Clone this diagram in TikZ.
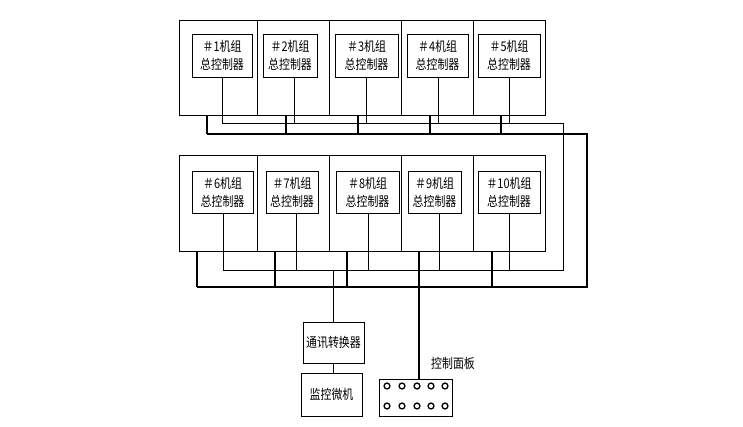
\documentclass[tikz,border=0pt]{standalone}
\usepackage{fontspec}
\usepackage{xcolor}
\newfontfamily\cjk[FakeStretch=0.82]{Noto Sans CJK SC}
\definecolor{wireink}{HTML}{000000}

\begin{document}
\begin{tikzpicture}[x=0.75pt, y=-0.75pt,
                    every node/.style={wireink, font=\cjk\fontsize{10}{13.5}\selectfont},
                    unitbox/.style={draw=wireink, line width=0.7pt, inner sep=0pt},
                    ctrlbox/.style={draw=wireink, line width=0.7pt, inner sep=0pt, align=center},
                    devbox/.style={draw=wireink, line width=0.7pt, inner sep=0pt},
                    thinwire/.style={wireink, line width=0.7pt},
                    thickwire/.style={wireink, line width=2pt, line join=miter}]

  \useasboundingbox (0,0) rectangle (743,426);

  %% 两条总线：细线为信号线，粗线为电源/通讯干线
  \coordinate (thinTL) at (222,123);
  \coordinate (thinTR) at (563,123);
  \coordinate (thinBR) at (563,270);
  \coordinate (thinBL) at (223,270);
  \coordinate (thickTL) at (207,134);
  \coordinate (thickTR) at (587,134);
  \coordinate (thickBR) at (587,287);
  \coordinate (thickBL) at (197,287);

  %% 上排 #1~#5 机组柜：编号/柜左/柜右/控制器左/控制器右/细线x/粗线x
  \foreach \i/\ul/\ur/\ca/\cb/\t/\k in {1/179/257/192/252/222/207,
                                         2/257/329/263/317/294/286,
                                         3/329/401/335/398/366/358,
                                         4/401/473/407/468/438/430,
                                         5/473/545/478/540/509/501}
  {
    \node[unitbox, minimum width={(\ur-\ul)*0.75pt}, minimum height=71.25pt]
      (u\i) at ({(\ul+\ur)/2},67.5) {};
    \node[ctrlbox, minimum width={(\cb-\ca)*0.75pt}, minimum height=32.25pt]
      (c\i) at ({(\ca+\cb)/2},55.5) {＃\i{}机组\\总控制器};
    \draw[thinwire] (c\i.south -| \t,0) -- (thinTL -| \t,0);
    \draw[thickwire] (u\i.south -| \k,0) -- (thickTL -| \k,0);
  }

  %% 下排 #6~#10 机组柜
  \foreach \i/\ul/\ur/\ca/\cb/\t/\k in {6/179/257/192/253/223/197,
                                         7/257/329/266/318/296/275,
                                         8/329/401/336/399/368/347,
                                         9/401/473/408/461/439/419,
                                         10/473/545/478/540/509/492}
  {
    \node[unitbox, minimum width={(\ur-\ul)*0.75pt}, minimum height=72pt]
      (u\i) at ({(\ul+\ur)/2},203) {};
    \node[ctrlbox, minimum width={(\cb-\ca)*0.75pt}, minimum height=31.5pt]
      (c\i) at ({(\ca+\cb)/2},192) {＃\i{}机组\\总控制器};
    \draw[thinwire] (c\i.south -| \t,0) -- (thinBL -| \t,0);
    \draw[thickwire] (u\i.south -| \k,0) -- (thickBL -| \k,0);
  }

  \draw[thinwire] (thinTL) -- (thinTR) -- (thinBR) -- (thinBL);
  \draw[thickwire] (thickTL) -- (thickTR) -- (thickBR) -- (thickBL);

  %% 监控部分
  \node[devbox, minimum width=45.75pt, minimum height=30.75pt] (comm) at (333.5,342.5) {通讯转换器};
  \node[devbox, minimum width=45.75pt, minimum height=32.25pt] (pc) at (331.5,394.5) {监控微机};
  \draw[thinwire] (thinBL -| 333,0) -- (comm.north -| 333,0);
  \draw[thinwire] (comm.south -| 333,0) -- (pc.north -| 333,0);

  %% 控制面板
  \node[devbox, minimum width=54.75pt, minimum height=27.75pt] (panel) at (415.5,397.5) {};
  \node (panellabel) at (453,363) {控制面板};
  \draw[thickwire] (thickBL -| 419,0) -- (panel.north -| 419,0);
  \foreach \x in {387,402,417,431,445}
    \foreach \y in {386,406}
      \draw[wireink, line width=1pt] (\x,\y) circle[radius=2.2pt];

\end{tikzpicture}
\end{document}
